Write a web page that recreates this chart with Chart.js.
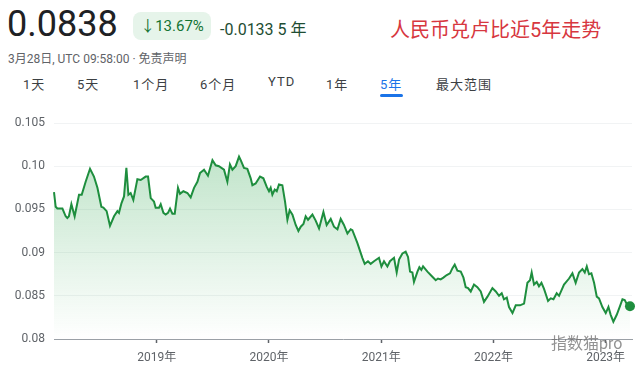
<!DOCTYPE html>
<html>
<head>
<meta charset="utf-8">
<script src="https://cdn.jsdelivr.net/npm/chart.js@4.4.0/dist/chart.umd.min.js"></script>
<style>
  body { margin: 0; background: #fff; font-family: Roboto, "Noto Sans CJK SC", sans-serif; }
  #wrap { position: relative; width: 640px; height: 372px; overflow: hidden; background: #fff; }
  .abs { position: absolute; white-space: nowrap; }
  #price { left: 7px; top: 3px; font-size: 36px; color: #202124; }
  #badge { left: 133px; top: 12px; width: 78px; height: 28px; border-radius: 8px; background: #e6f4ea;
           color: #137333; font-size: 15px; line-height: 28px; text-align: center; }
  #change { left: 220px; top: 16px; font-size: 16px; color: #1e4d33; }
  #title { left: 390px; top: 14px; font-size: 20px; color: #d7373f; }
  #stamp { left: 8px; top: 49px; font-size: 12px; color: #5f6368; }
  .tab { top: 74px; font-size: 13px; color: #3c4043; letter-spacing: 1px; }
  .tab.on { color: #1a73e8; }
  #bar { left: 380px; top: 94px; width: 23px; height: 3px; border-radius: 2px; background: #1a73e8; }
  #mark { left: 551px; top: 330px; font-size: 16px; color: rgba(110,110,110,0.75); }
  #box { position: absolute; left: 0; top: 100px; width: 640px; height: 272px; }
</style>
</head>
<body>
<div id="wrap">
  <div class="abs" id="price">0.0838</div>
  <div class="abs" id="badge">↓13.67%</div>
  <div class="abs" id="change">-0.0133 5 年</div>
  <div class="abs" id="title">人民币兑卢比近5年走势</div>
  <div class="abs" id="stamp">3月28日, UTC 09:58:00 · 免责声明</div>
  <div class="abs tab" style="left:23px">1天</div>
  <div class="abs tab" style="left:77px">5天</div>
  <div class="abs tab" style="left:133px">1个月</div>
  <div class="abs tab" style="left:200px">6个月</div>
  <div class="abs tab" style="left:268px">YTD</div>
  <div class="abs tab" style="left:326px">1年</div>
  <div class="abs tab on" style="left:380px">5年</div>
  <div class="abs tab" style="left:436px">最大范围</div>
  <div class="abs" id="bar"></div>
  <div id="box"><canvas id="chart"></canvas></div>
  <div class="abs" id="mark">指数猫pro</div>
</div>
<script>
// CNY/INR, last 5 years (decimal year, rate)
const dates = [
  2018.084, 2018.099, 2018.114, 2018.159, 2018.188, 2018.203, 2018.217, 2018.239, 2018.268, 2018.307,
  2018.331, 2018.366, 2018.405, 2018.440, 2018.471, 2018.506, 2018.524, 2018.553, 2018.583, 2018.619,
  2018.649, 2018.663, 2018.685, 2018.708, 2018.729, 2018.747, 2018.767, 2018.791, 2018.827, 2018.857,
  2018.901, 2018.922, 2018.946, 2018.975, 2018.990, 2019.020, 2019.035, 2019.059, 2019.079, 2019.100,
  2019.118, 2019.139, 2019.160, 2019.189, 2019.207, 2019.237, 2019.273, 2019.302, 2019.332, 2019.362,
  2019.385, 2019.421, 2019.456, 2019.496, 2019.525, 2019.554, 2019.599, 2019.629, 2019.652, 2019.674,
  2019.703, 2019.733, 2019.748, 2019.777, 2019.807, 2019.837, 2019.852, 2019.881, 2019.920, 2019.950,
  2019.980, 2020.000, 2020.015, 2020.030, 2020.051, 2020.069, 2020.089, 2020.119, 2020.143, 2020.164,
  2020.184, 2020.209, 2020.238, 2020.262, 2020.283, 2020.307, 2020.327, 2020.348, 2020.387, 2020.416,
  2020.446, 2020.485, 2020.514, 2020.550, 2020.579, 2020.610, 2020.639, 2020.668, 2020.699, 2020.728,
  2020.743, 2020.788, 2020.832, 2020.853, 2020.882, 2020.906, 2020.936, 2020.980, 2021.002, 2021.025,
  2021.055, 2021.078, 2021.114, 2021.138, 2021.159, 2021.189, 2021.218, 2021.239, 2021.257, 2021.278,
  2021.292, 2021.323, 2021.340, 2021.358, 2021.373, 2021.412, 2021.456, 2021.486, 2021.506, 2021.530,
  2021.554, 2021.584, 2021.613, 2021.635, 2021.655, 2021.679, 2021.709, 2021.733, 2021.753, 2021.774,
  2021.798, 2021.827, 2021.857, 2021.887, 2021.916, 2021.947, 2021.991, 2022.021, 2022.050, 2022.074,
  2022.094, 2022.119, 2022.139, 2022.170, 2022.199, 2022.237, 2022.273, 2022.303, 2022.326, 2022.341,
  2022.362, 2022.386, 2022.406, 2022.428, 2022.451, 2022.487, 2022.511, 2022.535, 2022.564, 2022.585,
  2022.629, 2022.674, 2022.704, 2022.733, 2022.763, 2022.793, 2022.814, 2022.832, 2022.852, 2022.873,
  2022.897, 2022.921, 2022.941, 2022.971, 2023.001, 2023.025, 2023.045, 2023.069, 2023.099, 2023.128,
  2023.150, 2023.170, 2023.194, 2023.217
];
const rates = [
  0.0970, 0.0953, 0.0951, 0.0951, 0.0942, 0.0940, 0.0942, 0.0956, 0.0942, 0.0967,
  0.0967, 0.0982, 0.0997, 0.0988, 0.0975, 0.0953, 0.0952, 0.0948, 0.0931, 0.0942,
  0.0948, 0.0946, 0.0957, 0.0965, 0.0998, 0.0967, 0.0969, 0.0961, 0.0985, 0.0984,
  0.0988, 0.0988, 0.0963, 0.0959, 0.0952, 0.0952, 0.0956, 0.0946, 0.0944, 0.0946,
  0.0951, 0.0945, 0.0945, 0.0975, 0.0968, 0.0971, 0.0969, 0.0964, 0.0975, 0.0982,
  0.0992, 0.0996, 0.0989, 0.1007, 0.1001, 0.1000, 0.0996, 0.0982, 0.1002, 0.0996,
  0.1000, 0.1011, 0.1007, 0.0998, 0.0997, 0.0986, 0.0978, 0.0980, 0.0988, 0.0986,
  0.0976, 0.0971, 0.0975, 0.0967, 0.0973, 0.0971, 0.0979, 0.0978, 0.0959, 0.0938,
  0.0949, 0.0944, 0.0932, 0.0925, 0.0930, 0.0933, 0.0942, 0.0938, 0.0944, 0.0937,
  0.0928, 0.0947, 0.0932, 0.0939, 0.0930, 0.0927, 0.0939, 0.0932, 0.0922, 0.0927,
  0.0926, 0.0911, 0.0894, 0.0887, 0.0890, 0.0887, 0.0890, 0.0894, 0.0884, 0.0890,
  0.0884, 0.0890, 0.0894, 0.0877, 0.0892, 0.0899, 0.0901, 0.0895, 0.0878, 0.0877,
  0.0866, 0.0878, 0.0883, 0.0880, 0.0884, 0.0878, 0.0872, 0.0868, 0.0870, 0.0869,
  0.0871, 0.0874, 0.0876, 0.0882, 0.0886, 0.0879, 0.0878, 0.0871, 0.0860, 0.0859,
  0.0855, 0.0863, 0.0860, 0.0855, 0.0843, 0.0849, 0.0859, 0.0855, 0.0850, 0.0853,
  0.0846, 0.0848, 0.0837, 0.0830, 0.0839, 0.0839, 0.0841, 0.0865, 0.0868, 0.0877,
  0.0863, 0.0866, 0.0861, 0.0865, 0.0858, 0.0844, 0.0847, 0.0846, 0.0853, 0.0850,
  0.0863, 0.0870, 0.0876, 0.0865, 0.0877, 0.0881, 0.0877, 0.0884, 0.0875, 0.0876,
  0.0865, 0.0849, 0.0847, 0.0837, 0.0830, 0.0837, 0.0828, 0.0820, 0.0828, 0.0838,
  0.0846, 0.0845, 0.0839, 0.0838
];
const yTicks = [0.08, 0.085, 0.09, 0.095, 0.10, 0.105];
const yTickLabels = ['0.08', '0.085', '0.09', '0.095', '0.10', '0.105'];
const xTicks = [2019, 2020, 2021, 2022, 2023];

const points = dates.map((d, i) => ({ x: d, y: rates[i] }));
const last = points.length - 1;

new Chart(document.getElementById('chart'), {
    type: 'line',
    data: {
        datasets: [{
            data: points,
            borderColor: '#1e8e3e',
            borderWidth: 2,
            tension: 0,
            clip: false,
            fill: 'start',
            backgroundColor: function (context) {
                const area = context.chart.chartArea;
                if (!area) return 'rgba(52,168,83,0.2)';
                const g = context.chart.ctx.createLinearGradient(0, area.top, 0, area.bottom);
                g.addColorStop(0, 'rgba(52,168,83,0.36)');
                g.addColorStop(1, 'rgba(52,168,83,0)');
                return g;
            },
            pointRadius: ctx => ctx.dataIndex === last ? 5 : 0,
            pointBackgroundColor: '#1e8e3e',
            pointBorderWidth: 0
        }]
    },
    options: {
        responsive: true,
        maintainAspectRatio: false,
        animation: false,
        layout: { padding: { left: 0, right: 8, top: 23, bottom: 0 } },
        plugins: { legend: { display: false }, tooltip: { enabled: false } },
        scales: {
            x: {
                type: 'linear',
                min: 2018.084,
                max: 2023.235,
                afterBuildTicks: scale => { scale.ticks = xTicks.map(v => ({ value: v })); },
                afterFit: scale => { scale.height = 33; },
                grid: { drawOnChartArea: false, tickLength: 4, tickColor: '#5f6368', tickWidth: 1.5 },
                border: { display: true, color: '#9aa0a6', width: 1 },
                ticks: {
                    autoSkip: false,
                    maxRotation: 0,
                    padding: 8,
                    color: '#5f6368',
                    font: { size: 12, family: 'Roboto, "Noto Sans CJK SC"' },
                    callback: v => v + '年'
                }
            },
            y: {
                min: 0.08,
                max: 0.105,
                afterBuildTicks: scale => { scale.ticks = yTicks.map(v => ({ value: v })); },
                afterFit: scale => { scale.width = 54; },
                grid: { color: '#f1f3f4', drawTicks: false },
                border: { display: false },
                ticks: {
                    padding: 9,
                    color: '#5f6368',
                    font: { size: 12, family: 'Roboto' },
                    callback: v => yTickLabels[yTicks.indexOf(v)]
                }
            }
        }
    }
});
</script>
</body>
</html>
